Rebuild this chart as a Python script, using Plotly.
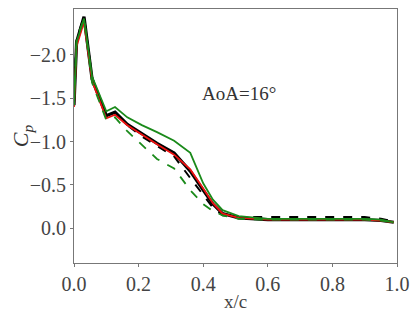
import plotly.graph_objects as go

x_c = [0, 0.008, 0.031, 0.056, 0.10, 0.127, 0.165, 0.21, 0.257, 0.31, 0.36, 0.40, 0.43, 0.46, 0.51, 0.6, 0.7, 0.8, 0.9, 0.95, 0.99]

cp_black_solid = [-1.42, -2.15, -2.44, -1.72, -1.30, -1.34, -1.20, -1.09, -0.98, -0.87, -0.66, -0.44, -0.28, -0.17, -0.12, -0.10, -0.10, -0.10, -0.10, -0.09, -0.07]
cp_black_dash = [-1.45, -2.18, -2.44, -1.74, -1.31, -1.33, -1.19, -1.06, -0.95, -0.83, -0.58, -0.38, -0.24, -0.15, -0.13, -0.13, -0.13, -0.13, -0.13, -0.11, -0.08]
cp_red_solid = [-1.40, -2.10, -2.38, -1.70, -1.27, -1.31, -1.19, -1.08, -0.97, -0.85, -0.68, -0.46, -0.29, -0.17, -0.12, -0.10, -0.10, -0.10, -0.10, -0.09, -0.07]
cp_green_solid = [-1.42, -2.15, -2.42, -1.75, -1.35, -1.40, -1.28, -1.19, -1.11, -1.01, -0.87, -0.52, -0.33, -0.21, -0.14, -0.11, -0.11, -0.11, -0.11, -0.10, -0.07]
cp_green_dash = [-1.45, -2.18, -2.42, -1.68, -1.25, -1.28, -1.12, -0.96, -0.80, -0.69, -0.44, -0.28, -0.20, -0.15, -0.11, -0.10, -0.10, -0.10, -0.10, -0.09, -0.07]

x_ticks = [0.0, 0.2, 0.4, 0.6, 0.8, 1.0]
y_ticks = [-2.0, -1.5, -1.0, -0.5, 0.0]
annotation_text = "AoA=16°"

fig = go.Figure()
fig.add_trace(go.Scatter(x=x_c, y=cp_black_solid, mode="lines", line=dict(color="black", width=3.2)))
fig.add_trace(go.Scatter(x=x_c, y=cp_black_dash, mode="lines", line=dict(color="black", width=2, dash="dash")))
fig.add_trace(go.Scatter(x=x_c, y=cp_red_solid, mode="lines", line=dict(color="#ee1111", width=1.8)))
fig.add_trace(go.Scatter(x=x_c, y=cp_green_solid, mode="lines", line=dict(color="#1a8a1a", width=1.8)))
fig.add_trace(go.Scatter(x=x_c, y=cp_green_dash, mode="lines", line=dict(color="#1a8a1a", width=1.8, dash="dash")))

FAM = "'Liberation Serif', 'Times New Roman', Times, serif"
font = dict(family=FAM, size=20, color="#444")
axis_common = dict(showgrid=False, zeroline=False, showline=True, linecolor="#777", linewidth=1,
                   mirror=True, ticks="outside", ticklen=3, tickcolor="#777", tickfont=font,
                   automargin=False)

# page body has an 8px default margin, so the figure is offset by (8, 8)
fig.update_layout(
    width=411, height=306,
    margin=dict(l=66, r=22, t=1, b=51),
    plot_bgcolor="white", paper_bgcolor="white",
    showlegend=False,
    font=dict(family=FAM),
    xaxis=dict(range=[0, 1], tickvals=x_ticks, ticktext=[f"{v:.1f}" for v in x_ticks],
               title=dict(text="x/c", font=dict(family=FAM, size=19, color="#444"), standoff=0), **axis_common),
    yaxis=dict(range=[0.40, -2.53], tickvals=y_ticks,
               ticktext=[("\u2212" if v < 0 else "") + f"{abs(v):.1f}" for v in y_ticks],
               title=dict(text="<i>C</i><sub><i>p</i></sub>", font=dict(family=FAM, size=22, color="#333"), standoff=4),
               **axis_common),
    annotations=[dict(x=0.51, y=-1.55, xref="x", yref="y", text=annotation_text, showarrow=False,
                      font=dict(family=FAM, size=19, color="#333"))],
)

fig.write_html("out.html")
